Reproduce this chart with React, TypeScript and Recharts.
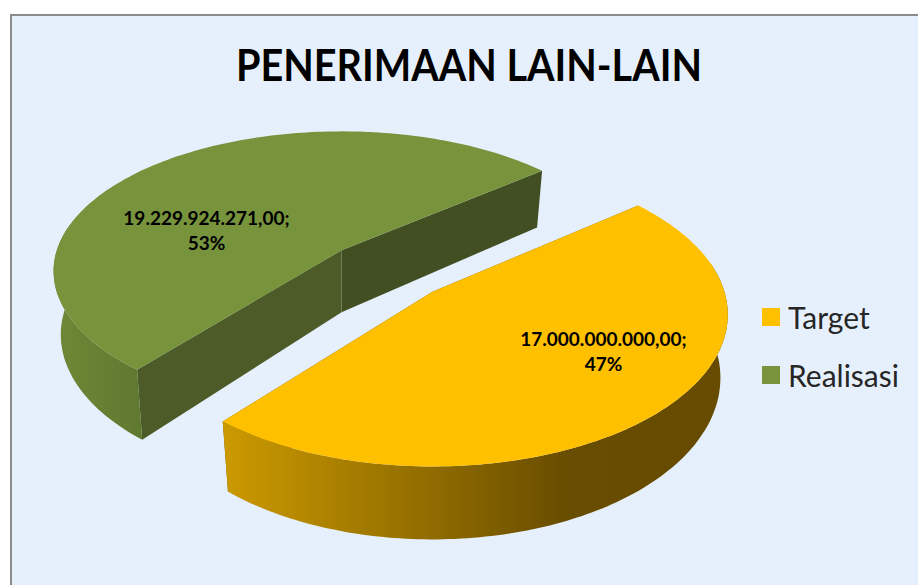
import React from "react";
import { PieChart, Pie, Cell, Legend } from "recharts";

const names = ["Target", "Realisasi"];
const values = [17000000000, 19229924271];
const valueLabels = ["17.000.000.000,00;", "19.229.924.271,00;"];
const percentLabels = ["47%", "53%"];
const colors = ["#FFC000", "#77933C"];
const title = "PENERIMAAN LAIN-LAIN";

const data = names.map((name, i) => ({ name, value: values[i], i }));

const RX = 292;
const RY = 147;
const EXPLODE_X = 0.22;
const EXPLODE_Y = 0.2;
const DEPTH = 62;
const TAPER = 0.025;
const RAD = Math.PI / 180;

const persp = [0.15, 0.15];
const scaleX = [1, 0.975];
const scaleY = [1.01, 0.93];
const wallFills = ["url(#wallYellow)", "url(#wallGreen)"];
const firstFaces = ["#6A4E00", "#4C5B27"];
const lastFaces = ["#6A4E00", "#414F23"];
const labelOffsets = [
  { dx: 171, dy: 54 },
  { dx: -135, dy: -25 },
];

const apexOf = (cx: number, cy: number, midDeg: number) => {
  const mid = -midDeg * RAD;
  return [cx + EXPLODE_X * RX * Math.cos(mid), cy + EXPLODE_Y * RY * Math.sin(mid)];
};

const Slab = (p: any) => {
  const { cx, cy, startAngle, endAngle, payload, fill } = p;
  const idx = payload?.i ?? p.i ?? 0;
  const [ax, ay] = apexOf(cx, cy, (startAngle + endAngle) / 2);
  const project = (deg: number) => {
    const t = -deg * RAD;
    const k = 1 / (1 - persp[idx] * Math.sin(t));
    return [ax + RX * scaleX[idx] * Math.cos(t) * k, ay + RY * scaleY[idx] * Math.sin(t) * k, k];
  };
  const lower = (q: number[]) => [q[0] + TAPER * (ax - q[0]), q[1] + DEPTH * q[2]];
  const pts: number[][] = [];
  const front: number[][] = [];
  const n = 160;
  for (let s = 0; s <= n; s++) {
    const deg = startAngle + ((endAngle - startAngle) * s) / n;
    const q = project(deg);
    pts.push(q);
    if (Math.sin(-deg * RAD) > -0.2) front.push(q);
  }
  const line = (arr: number[][]) => arr.map((q) => `${q[0].toFixed(1)},${q[1].toFixed(1)}`).join(" L");
  const top = `M${ax},${ay} L${line(pts)} Z`;
  const wall = `M${line(front)} L${line([...front].reverse().map(lower))} Z`;
  const face = (q: number[]) => {
    const b = lower(q);
    return `M${ax},${ay} L${q[0]},${q[1]} L${b[0]},${b[1]} L${ax},${ay + DEPTH} Z`;
  };
  return (
    <g>
      <path d={face(pts[n])} fill={lastFaces[idx]} />
      <path d={face(pts[0])} fill={firstFaces[idx]} />
      <path d={wall} fill={wallFills[idx]} />
      <path d={top} fill={fill} />
    </g>
  );
};

const SliceLabel = (p: any) => {
  const idx = p.payload?.i ?? p.index ?? 0;
  const [ax, ay] = apexOf(p.cx, p.cy, p.midAngle ?? 0);
  const x = ax + labelOffsets[idx].dx;
  const y = ay + labelOffsets[idx].dy;
  return (
    <text x={x} y={y} textAnchor="middle" fill="#000" fontFamily="Lato, sans-serif" fontWeight={700} fontSize={19}>
      <tspan x={x} dy={0}>{valueLabels[idx]}</tspan>
      <tspan x={x} dy={25}>{percentLabels[idx]}</tspan>
    </text>
  );
};

const LegendBox = ({ payload }: any) => (
  <div style={{ fontFamily: "Lato, sans-serif", fontSize: 30, color: "#262626" }}>
    {(payload ?? []).map((e: any) => (
      <div key={e.value} style={{ display: "flex", alignItems: "center", height: 58 }}>
        <span style={{ display: "inline-block", width: 18, height: 18, background: e.color, marginRight: 8 }} />
        <span>{e.value}</span>
      </div>
    ))}
  </div>
);

export default function App() {
  return (
    <div style={{ position: "absolute", left: 0, top: 0, width: 918, height: 585, overflow: "hidden", background: "#fff" }}>
      <div
        style={{
          position: "absolute",
          left: 10,
          top: 14,
          width: 1000,
          height: 700,
          background: "#E6F0FC",
          border: "2px solid #8C8C8C",
        }}
      />
      <div style={{ position: "absolute", left: 0, top: 0 }}>
        <PieChart width={918} height={585} margin={{ top: 0, right: 0, bottom: 0, left: 0 }}>
          <defs>
            <linearGradient id="wallYellow" x1="222" x2="728" y1="0" y2="0" gradientUnits="userSpaceOnUse">
              <stop offset="0" stopColor="#CC9A00" />
              <stop offset="0.68" stopColor="#694D00" />
              <stop offset="1" stopColor="#664B00" />
            </linearGradient>
            <linearGradient id="wallGreen" x1="55" x2="140" y1="0" y2="0" gradientUnits="userSpaceOnUse">
              <stop offset="0" stopColor="#6D8836" />
              <stop offset="1" stopColor="#5F7A30" />
            </linearGradient>
          </defs>
          <text
            x={469}
            y={81}
            textAnchor="middle"
            fill="#000"
            fontFamily="Lato, sans-serif"
            fontWeight={700}
            fontSize={43}
            textLength={466}
            lengthAdjust="spacingAndGlyphs"
          >
            {title}
          </text>
          <Pie
            data={data}
            dataKey="value"
            nameKey="name"
            cx={387}
            cy={271}
            outerRadius={290}
            startAngle={39.5}
            endAngle={-320.5}
            stroke="none"
            isAnimationActive={false}
            shape={Slab}
            label={SliceLabel}
            labelLine={false}
          >
            {data.map((d, i) => (
              <Cell key={d.name} fill={colors[i]} />
            ))}
          </Pie>
          <Legend
            layout="vertical"
            align="right"
            verticalAlign="top"
            itemSorter={null}
            content={LegendBox}
            wrapperStyle={{ position: "absolute", left: 762, top: 288, width: 156 }}
          />
        </PieChart>
      </div>
    </div>
  );
}
